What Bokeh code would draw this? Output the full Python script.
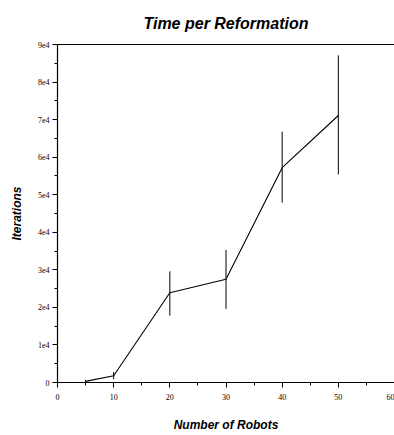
from bokeh.plotting import figure
from bokeh.models import Range1d, LinearAxis, SingleIntervalTicker, FixedTicker, ColumnDataSource
from bokeh.embed import file_html
from bokeh.resources import INLINE

robots = [5, 10, 20, 30, 40, 50]
iterations = [300, 1800, 23900, 27500, 57200, 71100]
err_low = [0, 900, 17800, 19600, 47900, 55400]
err_high = [700, 2800, 29600, 35300, 66800, 87100]

y_tick_labels = {0: "0", 10000: "1e4", 20000: "2e4", 30000: "3e4", 40000: "4e4",
                 50000: "5e4", 60000: "6e4", 70000: "7e4", 80000: "8e4", 90000: "9e4"}

src = ColumnDataSource(dict(x=robots, y=iterations, lo=err_low, hi=err_high))

p = figure(width=394, height=435, output_backend="svg", toolbar_location=None,
           x_range=Range1d(0, 60), y_range=Range1d(0, 90000),
           min_border_left=57, min_border_right=0, min_border_top=43, min_border_bottom=53,
           title="Time per Reformation")
p.outline_line_color = None
p.grid.visible = False
p.background_fill_color = "white"
p.border_fill_color = "white"

p.title.text_font = "Liberation Sans"
p.title.text_font_style = "bold italic"
p.title.text_font_size = "16px"
p.title.align = "center"
p.title.text_color = "black"
p.title.standoff = 25
p.title.offset = -8

p.line("x", "y", source=src, line_color="black", line_width=1.1)
p.segment(x0="x", y0="lo", x1="x", y1="hi", source=src, line_color="black", line_width=1)

xa = p.xaxis[0]
xa.ticker = SingleIntervalTicker(interval=10, num_minor_ticks=2)
xa.axis_label = "Number of Robots"
ya = p.yaxis[0]
ya.ticker = SingleIntervalTicker(interval=10000, num_minor_ticks=2)
ya.major_label_overrides = y_tick_labels
ya.axis_label = "Iterations"

for ax in (xa, ya):
    ax.axis_line_color = "black"
    ax.axis_line_width = 1.2
    ax.major_tick_in = 0
    ax.major_tick_out = 5
    ax.minor_tick_in = 0
    ax.minor_tick_out = 3
    ax.major_tick_line_color = "black"
    ax.minor_tick_line_color = "black"
    ax.major_label_text_font = "Liberation Serif"
    ax.major_label_text_font_size = "8px"
    ax.major_label_text_color = "black"
    ax.axis_label_text_font = "Liberation Sans"
    ax.axis_label_text_font_style = "bold italic"
    ax.axis_label_text_font_size = "12px"
    ax.axis_label_text_color = "black"

xa.major_label_standoff = 6
xa.axis_label_standoff = 15
ya.major_label_standoff = 3
ya.axis_label_standoff = 11

top = LinearAxis(ticker=FixedTicker(ticks=[]), major_tick_line_color=None,
                 minor_tick_line_color=None, axis_line_color="black",
                 axis_line_width=1.2)
p.add_layout(top, "above")

open("out.html", "w").write(file_html(p, INLINE))
